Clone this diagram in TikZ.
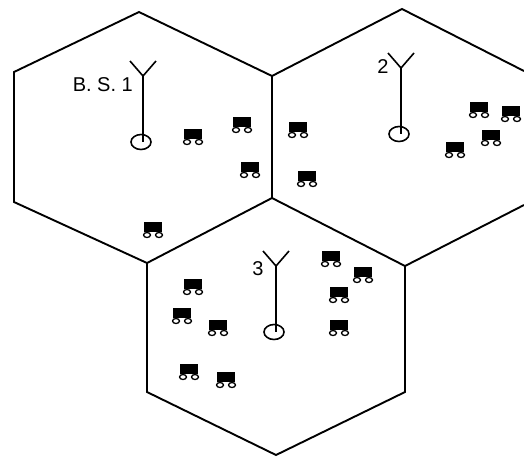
\documentclass[tikz,border=0pt]{standalone}
\usepackage{fontspec}
\setmainfont{Liberation Sans}
\usetikzlibrary{shapes.geometric}

\begin{document}
\begin{tikzpicture}[
  x=1pt, y=-1pt,
  celledge/.style={line width=1.9pt, line join=miter},
  mastline/.style={line width=1.6pt},
  basefoot/.style={draw, ellipse, line width=1.6pt, minimum width=20pt, minimum height=15pt, inner sep=0pt},
  bslabel/.style={font=\fontsize{20}{22}\selectfont, inner sep=0pt},
  terminal/.pic={
    \fill (-9,-6) rectangle (9,4);
    \draw[line width=1.3pt] (-6,7) ellipse (3.5pt and 2.5pt);
    \draw[line width=1.3pt] (6,7) ellipse (3.5pt and 2.5pt);
  },
]
\useasboundingbox (0,0) rectangle (524,456);

% Hexagon corners
\coordinate (A) at (139,12);
\coordinate (B) at (272,76);
\coordinate (C) at (272,198);
\coordinate (D) at (147,263);
\coordinate (E) at (14,202);
\coordinate (F) at (14,72);
\coordinate (G) at (402,9);
\coordinate (H) at (524,71);
\coordinate (I) at (524,205);
\coordinate (J) at (405,266);
\coordinate (K) at (405,392);
\coordinate (L) at (276,455);
\coordinate (M) at (147,392);

% Cells
\draw[celledge] (A) -- (B) -- (C) -- (D) -- (E) -- (F) -- cycle;
\draw[celledge] (B) -- (G) -- (H);
\draw[celledge] (I) -- (J) -- (C);
\draw[celledge] (J) -- (K) -- (L) -- (M) -- (D);

% Base stations
\foreach \name/\mx/\my/\fx/\fy in {one/143/76/141/142, two/401/68/399/134, three/276/266/274/332} {
  \node[basefoot] (\name foot) at (\fx,\fy) {};
  \coordinate (\name top) at (\mx,\my);
  \coordinate (\name end) at (\mx,\fy);
  \coordinate (\name left) at (\mx-13,\my-15);
  \coordinate (\name right) at (\mx+13,\my-15);
  \draw[mastline] (\name top) -- (\name end);
  \draw[mastline] (\name left) -- (\name top) -- (\name right);
}

% Labels
\node[bslabel, anchor=east] (bsone) at (133,85) {B. S. 1};
\node[bslabel] (bstwo) at (383,67) {2};
\node[bslabel] (bsthree) at (258,269) {3};

% Terminals
\foreach \px/\py in {193/135, 242/123, 250/168, 298/128, 307/177, 153/228,
    479/108, 511/112, 491/136, 455/148,
    193/285, 182/314, 218/326, 189/370, 226/378,
    331/257, 363/273, 339/293, 339/326} {
  \pic at (\px,\py) {terminal};
}

\end{tikzpicture}
\end{document}
